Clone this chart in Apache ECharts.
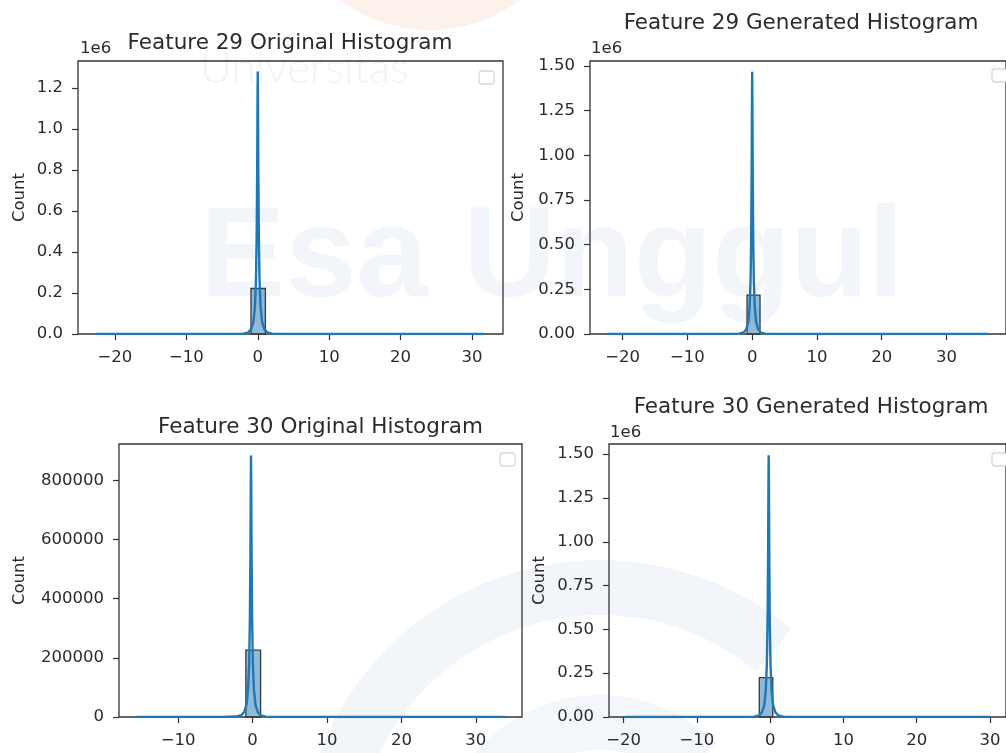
<!DOCTYPE html>
<html>
<head>
<meta charset="utf-8">
<script src="https://cdn.jsdelivr.net/npm/echarts@6/dist/echarts.min.js"></script>
<style>
  html, body { margin: 0; padding: 0; background: #ffffff; }
  #chart { width: 1006px; height: 753px; }
</style>
</head>
<body>
<div id="chart"></div>
<script>
// ---- Feature 29, original data ----
const f29OrigBin = [-0.95, 1.07, 222000];          // [binStart, binEnd, count]
const f29OrigKdeX = [-22.7, -4, -2, -1.3, -0.9, -0.6, -0.4, -0.25, -0.15, -0.08, -0.03, 0, 0.03, 0.08, 0.15, 0.25, 0.4, 0.6, 0.9, 1.3, 2, 4, 31.6];
const f29OrigKdeY = [0, 300, 2000, 8000, 25000, 60000, 130000, 260000, 480000, 800000, 1150000, 1280000, 1150000, 800000, 480000, 260000, 130000, 60000, 25000, 8000, 2000, 300, 0];

// ---- Feature 29, generated data ----
const f29GenBin = [-0.8, 1.21, 218000];
const f29GenKdeX = [-22.4, -4, -2, -1.3, -0.9, -0.6, -0.4, -0.25, -0.15, -0.08, -0.03, 0, 0.03, 0.08, 0.15, 0.25, 0.4, 0.6, 0.9, 1.3, 2, 4, 36.4];
const f29GenKdeY = [0, 300, 2200, 9000, 28000, 68000, 150000, 300000, 550000, 920000, 1320000, 1468000, 1320000, 920000, 550000, 300000, 150000, 68000, 28000, 9000, 2200, 300, 0];

// ---- Feature 30, original data ----
const f30OrigBin = [-0.89, 1.09, 226000];
const f30OrigKdeX = [-15.7, -4, -2.2, -1.5, -1.1, -0.8, -0.6, -0.45, -0.35, -0.28, -0.23, -0.2, -0.17, -0.12, -0.05, 0.05, 0.2, 0.4, 0.7, 1.1, 1.8, 4, 33.9];
const f30OrigKdeY = [0, 200, 1500, 6000, 18000, 42000, 90000, 180000, 330000, 550000, 790000, 884700, 790000, 550000, 330000, 180000, 90000, 42000, 17000, 5500, 1400, 200, 0];

// ---- Feature 30, generated data ----
const f30GenBin = [-1.48, 0.36, 224600];
const f30GenKdeX = [-19.7, -4, -2.2, -1.5, -1.1, -0.8, -0.6, -0.45, -0.35, -0.28, -0.23, -0.2, -0.17, -0.12, -0.05, 0.05, 0.2, 0.4, 0.7, 1.1, 1.8, 4, 30.0];
const f30GenKdeY = [0, 300, 2200, 9000, 28000, 68000, 150000, 300000, 550000, 920000, 1340000, 1494000, 1340000, 920000, 550000, 300000, 150000, 68000, 28000, 9000, 2200, 300, 0];

// ---- tick labels ----
const xTicksF29Orig = [-20, -10, 0, 10, 20, 30];
const xTicksF29Gen = [-20, -10, 0, 10, 20, 30];
const xTicksF30Orig = [-10, 0, 10, 20, 30];
const xTicksF30Gen = [-20, -10, 0, 10, 20, 30];
const yTicksF29Orig = [0, 200000, 400000, 600000, 800000, 1000000, 1200000];
const yTicksF29Gen = [0, 250000, 500000, 750000, 1000000, 1250000, 1500000];
const yTicksF30Orig = [0, 200000, 400000, 600000, 800000];
const yTicksF30Gen = [0, 250000, 500000, 750000, 1000000, 1250000, 1500000];

const titles = [
  'Feature 29 Original Histogram',
  'Feature 29 Generated Histogram',
  'Feature 30 Original Histogram',
  'Feature 30 Generated Histogram'
];

// ---- layout of the four panels ----
const TEXT = '#2b2b2b';
const FONT = 'DejaVu Sans';
const TICK_FS = 16.5;
const TITLE_FS = 21.5;

const panels = [
  { bin: f29OrigBin, kx: f29OrigKdeX, ky: f29OrigKdeY, xt: xTicksF29Orig, yt: yTicksF29Orig,
    grid: { left: 78, top: 61, width: 425, height: 273 }, xMin: -25.17, xMax: 34.34, yMax: 1331500,
    yFmt: v => (v / 1e6).toFixed(1), nameGap: 50,
    title: { x: 290, y: 43 }, offset: { x: 80, y: 49 } },
  { bin: f29GenBin, kx: f29GenKdeX, ky: f29GenKdeY, xt: xTicksF29Gen, yt: yTicksF29Gen,
    grid: { left: 590, top: 61, width: 424, height: 273 }, xMin: -25.05, xMax: 39.2, yMax: 1527700,
    yFmt: v => (v / 1e6).toFixed(2), nameGap: 63,
    title: { x: 801, y: 23 }, offset: { x: 591, y: 49 } },
  { bin: f30OrigBin, kx: f30OrigKdeX, ky: f30OrigKdeY, xt: xTicksF30Orig, yt: yTicksF30Orig,
    grid: { left: 119, top: 444, width: 403, height: 273 }, xMin: -17.93, xMax: 36.2, yMax: 923400,
    yFmt: v => String(v), nameGap: 91,
    title: { x: 320.5, y: 427 }, offset: null },
  { bin: f30GenBin, kx: f30GenKdeX, ky: f30GenKdeY, xt: xTicksF30Gen, yt: yTicksF30Gen,
    grid: { left: 609, top: 444, width: 404, height: 273 }, xMin: -22.0, xMax: 32.2, yMax: 1558000,
    yFmt: v => (v / 1e6).toFixed(2), nameGap: 61,
    title: { x: 811, y: 407 }, offset: { x: 610, y: 433 } }
];

// empty legend frames in the upper-right corner of each panel
const legendFrames = [
  { x: 479, y: 71 }, { x: 992, y: 69 }, { x: 500, y: 453 }, { x: 992, y: 453 }
];

const xFmt = v => (v < 0 ? '\u2212' + Math.abs(v) : String(v));

const grids = [], xAxes = [], yAxes = [], series = [], graphics = [];

// faint background watermark
graphics.push(
  { type: 'sector', z: -10, silent: true,
    shape: { cx: 600, cy: 860, r: 300, r0: 245, startAngle: Math.PI * 0.95, endAngle: Math.PI * 1.72 },
    style: { fill: '#f2f5f9' } },
  { type: 'sector', z: -10, silent: true,
    shape: { cx: 600, cy: 860, r: 165, r0: 110, startAngle: Math.PI * 1.0, endAngle: Math.PI * 1.75 },
    style: { fill: '#f3f6fa' } },
  { type: 'sector', z: -10, silent: true,
    shape: { cx: 430, cy: -120, r: 150, r0: 112, startAngle: Math.PI * 0.15, endAngle: Math.PI * 0.85 },
    style: { fill: '#fdf1ec' } },
  { type: 'text', z: -10, silent: true,
    style: { text: 'Universitas', x: 200, y: 91, textVerticalAlign: 'bottom',
      font: '300 44px Lato', fill: '#f2f3f6' } },
  { type: 'text', z: -10, silent: true,
    style: { text: 'Esa Unggul', x: 200, y: 197, textVerticalAlign: 'alphabetic',
      font: 'bold 128px "Liberation Sans"', fill: '#f2f5fa' } }
);

panels.forEach((p, i) => {
  grids.push(Object.assign({ show: true, borderColor: '#333', borderWidth: 1.3,
    backgroundColor: 'transparent', containLabel: false }, p.grid));

  xAxes.push({
    gridIndex: i, type: 'value', min: p.xMin, max: p.xMax,
    splitLine: { show: false },
    axisLine: { show: false, onZero: false },
    axisTick: { show: true, length: 6, lineStyle: { color: '#333', width: 1.2 }, customValues: p.xt },
    axisLabel: { customValues: p.xt, formatter: xFmt, color: TEXT, fontSize: TICK_FS,
      fontFamily: FONT, margin: 15 }
  });

  yAxes.push({
    gridIndex: i, type: 'value', min: 0, max: p.yMax,
    name: 'Count', nameLocation: 'middle', nameRotate: 90, nameGap: p.nameGap,
    nameTextStyle: { color: TEXT, fontSize: TICK_FS, fontFamily: FONT },
    splitLine: { show: false },
    axisLine: { show: false, onZero: false },
    axisTick: { show: true, length: 6, lineStyle: { color: '#333', width: 1.2 }, customValues: p.yt },
    axisLabel: { customValues: p.yt, formatter: p.yFmt, color: TEXT, fontSize: TICK_FS,
      fontFamily: FONT, margin: 15 }
  });

  // histogram bar
  series.push({
    type: 'custom', xAxisIndex: i, yAxisIndex: i, z: 2, animation: false,
    data: [p.bin],
    encode: { x: [0, 1], y: 2 },
    renderItem: (params, api) => {
      const a = api.coord([api.value(0), api.value(2)]);
      const b = api.coord([api.value(1), 0]);
      return {
        type: 'rect',
        shape: { x: a[0], y: a[1], width: b[0] - a[0], height: b[1] - a[1] },
        style: { fill: 'rgba(31,119,180,0.5)', stroke: '#3a3a3a', lineWidth: 1.3 }
      };
    }
  });

  // density curve
  series.push({
    type: 'line', xAxisIndex: i, yAxisIndex: i, z: 3, animation: false,
    showSymbol: false, smooth: false,
    data: p.kx.map((x, k) => [x, p.ky[k]]),
    lineStyle: { color: '#1f77b4', width: 2.4 },
    itemStyle: { color: '#1f77b4' }
  });

  graphics.push({
    type: 'text', z: 10, silent: true,
    style: { text: titles[i], x: p.title.x, y: p.title.y, textAlign: 'center',
      textVerticalAlign: 'middle', font: TITLE_FS + 'px "DejaVu Sans"', fill: TEXT }
  });
  if (p.offset) {
    graphics.push({
      type: 'text', z: 10, silent: true,
      style: { text: '1e6', x: p.offset.x, y: p.offset.y, textAlign: 'left',
        textVerticalAlign: 'middle', font: TICK_FS + 'px "DejaVu Sans"', fill: TEXT }
    });
  }
});

legendFrames.forEach(f => {
  graphics.push({
    type: 'rect', z: 10, silent: true,
    shape: { x: f.x, y: f.y, width: 15, height: 13, r: 3 },
    style: { fill: '#ffffff', stroke: '#d9d9d9', lineWidth: 1.3 }
  });
});

const chart = echarts.init(document.getElementById('chart'), null, { renderer: 'canvas' });
chart.setOption({
  backgroundColor: '#ffffff',
  animation: false,
  grid: grids,
  xAxis: xAxes,
  yAxis: yAxes,
  series: series,
  graphic: graphics
});
</script>
</body>
</html>
